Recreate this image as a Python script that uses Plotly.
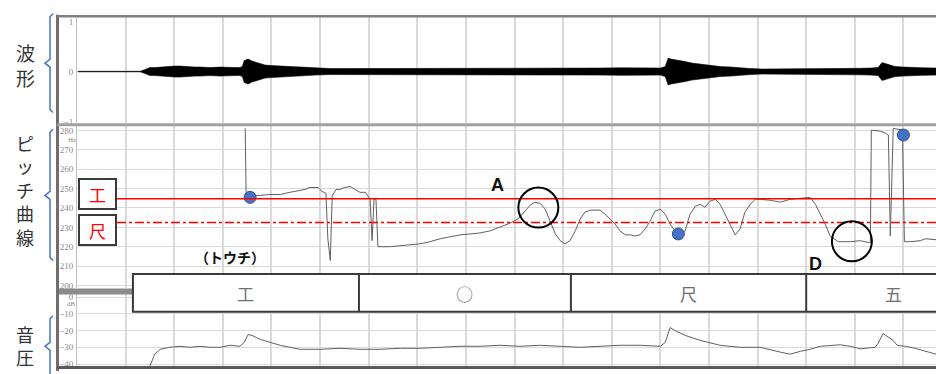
import plotly.graph_objects as go

W, H = 936, 374

# ---- data -------------------------------------------------------------
# waveform envelope (time in s, normalised amplitude)
wave_t = [0.02, 1.30, 1.40, 1.50, 1.60, 1.71, 1.81, 1.91, 2.02, 2.12, 2.22, 2.33, 2.43, 2.53,
          2.74, 2.94, 3.10, 3.25, 3.35, 3.40, 3.44, 3.52, 3.60, 3.66, 3.77, 3.87, 4.00, 4.18,
          4.40, 4.59, 4.90, 5.21, 5.50, 5.82, 6.20, 6.65, 7.10, 7.67, 8.20, 8.70, 9.20,
          9.73, 10.20, 10.76, 11.20, 11.58, 12.00, 12.10, 12.16, 12.22, 12.30, 12.40, 12.51,
          12.65, 12.82, 13.00, 13.23, 13.45, 13.64, 13.85, 14.10, 14.47, 14.90, 15.29, 15.60,
          15.91, 16.10, 16.32, 16.48, 16.56, 16.62, 16.67, 16.75, 16.83, 17.00, 17.14, 17.40,
          17.67]
wave_amp = [0.005, 0.005, 0.04, 0.08, 0.08, 0.09, 0.09, 0.10, 0.11, 0.11, 0.10, 0.10, 0.09,
            0.09, 0.08, 0.09, 0.08, 0.08, 0.08, 0.10, 0.22, 0.25, 0.21, 0.19, 0.16, 0.13, 0.12,
            0.11, 0.09, 0.08, 0.07, 0.06, 0.06, 0.06, 0.055, 0.06, 0.055, 0.06, 0.055, 0.06,
            0.065, 0.07, 0.065, 0.07, 0.075, 0.075, 0.07, 0.10, 0.27, 0.25, 0.24, 0.22, 0.20,
            0.17, 0.15, 0.12, 0.10, 0.09, 0.07, 0.06, 0.05, 0.05, 0.05, 0.055, 0.06,
            0.06, 0.065, 0.07, 0.08, 0.18, 0.16, 0.15, 0.12, 0.10, 0.09, 0.08, 0.075, 0.07]

# pitch contour (time in s, Hz)
pitch_t = [3.46, 3.48, 3.56, 3.77, 3.97, 4.18, 4.38, 4.59, 4.69, 4.79, 4.96, 5.04, 5.12, 5.16,
           5.21, 5.25, 5.33, 5.41, 5.51, 5.62, 5.72, 5.82, 5.93, 6.03, 6.07, 6.11, 6.15, 6.19,
           6.44, 6.65, 6.85, 7.06, 7.26, 7.47, 7.67, 7.88, 8.09, 8.29, 8.50, 8.70, 8.91, 9.07,
           9.22, 9.32, 9.42, 9.53, 9.63, 9.73, 9.84, 9.94, 10.04, 10.14, 10.25, 10.35, 10.45,
           10.56, 10.76, 10.86, 10.97, 11.07, 11.17, 11.28, 11.38, 11.48, 11.58, 11.69, 11.79,
           11.89, 12.00, 12.10, 12.20, 12.30, 12.41, 12.51, 12.61, 12.72, 12.82, 12.92, 13.02,
           13.13, 13.23, 13.33, 13.44, 13.54, 13.64, 13.74, 13.85, 13.95, 14.05, 14.26, 14.47,
           14.67, 14.88, 15.08, 15.19, 15.29, 15.39, 15.49, 15.66, 15.91, 16.11, 16.32, 16.34,
           16.52, 16.63, 16.69, 16.73, 16.79, 16.98, 17.02, 17.14, 17.35, 17.45, 17.67]
pitch_hz = [281.2, 246.5, 246.5, 246.5, 247.0, 247.0, 248.1, 249.1, 249.6, 250.6, 250.6, 248.6,
            247.6, 224.1, 212.9, 246.5, 249.6, 249.6, 250.6, 251.1, 249.6, 248.1, 248.1, 244.5,
            223.1, 244.5, 244.5, 220.0, 220.0, 220.5, 221.0, 221.5, 222.6, 224.1, 225.1, 226.1,
            226.6, 227.1, 228.2, 230.2, 232.2, 234.3, 238.4, 241.4, 243.0, 242.4, 239.4, 233.3,
            226.6, 223.1, 221.5, 223.1, 228.2, 234.3, 237.9, 238.9, 238.9, 236.8, 234.3, 231.7,
            228.2, 226.1, 226.1, 225.6, 226.1, 229.2, 233.3, 238.4, 239.4, 236.8, 231.7, 228.2,
            226.1, 228.2, 236.8, 240.9, 241.9, 240.4, 243.5, 244.5, 241.9, 236.8, 231.7, 226.1,
            229.2, 237.9, 241.9, 244.5, 244.5, 244.0, 243.0, 244.5, 245.0, 245.5, 241.9, 236.8,
            231.7, 225.6, 222.6, 222.6, 223.1, 222.0, 280.2, 279.7, 278.7, 277.7, 225.6, 281.2,
            280.2, 222.6, 222.6, 223.1, 224.1, 223.6]

# marked pitch points
mark_t = [3.56, 12.37, 17.00]
mark_hz = [245.5, 226.6, 277.7]

# reference pitches of the notation
ref_names = ["工", "尺"]
ref_hz = [244.8, 232.5]

# sound pressure level (time in s, dB)
level_t = [1.50, 1.54, 1.60, 1.71, 1.91, 2.12, 2.33, 2.53, 2.74, 2.94, 3.15, 3.35, 3.44, 3.52,
           3.60, 3.77, 3.97, 4.18, 4.38, 4.59, 5.00, 5.41, 5.82, 6.23, 6.65, 7.06, 7.47, 7.88,
           8.29, 8.70, 9.11, 9.53, 9.94, 10.35, 10.76, 11.17, 11.58, 12.00, 12.10, 12.20, 12.30,
           12.51, 12.82, 13.23, 13.64, 14.05, 14.47, 14.67, 14.88, 15.08, 15.29, 15.70, 15.91,
           16.11, 16.42, 16.48, 16.58, 16.79, 16.87, 17.04, 17.24, 17.67]
level_db = [-41.2, -38.2, -34.1, -31.2, -30.0, -29.4, -30.0, -29.4, -30.0, -30.0, -28.8, -29.4,
            -27.1, -22.4, -22.9, -25.3, -27.1, -28.8, -30.0, -31.2, -31.2, -30.6, -31.2, -31.2,
            -30.6, -30.6, -30.0, -29.4, -29.4, -28.8, -29.4, -28.8, -29.4, -30.0, -29.4, -28.8,
            -28.8, -29.4, -27.1, -18.2, -20.0, -22.9, -25.9, -28.8, -30.0, -30.0, -32.9, -34.1,
            -32.4, -31.2, -29.4, -28.5, -29.4, -30.9, -30.0, -27.6, -21.8, -25.9, -28.8, -29.4,
            -30.6, -34.1]

# notation table along the time axis
note_names = ["工", "○", "尺", "五"]
note_bounds = [1.15, 5.80, 10.16, 15.00, 18.58]

# annotated spots (label, time, Hz)
circle_spots = [("A", 9.49, 240.2), ("D", 15.94, 222.8)]
letter_pos = {"A": (8.66, 252.1), "D": (15.19, 211.3)}

# ---- helpers ----------------------------------------------------------
def px(x):
    return x / W

def py(y):
    return 1 - y / H

GRID = "#d9d9d9"
TICKF = dict(family="Liberation Serif", size=9, color="#8a8a8a")
UNITF = dict(family="Liberation Serif", size=7, color="#8a8a8a")
BLUE = "#4472C4"

fig = go.Figure()

# waveform as a filled envelope
fig.add_trace(go.Scatter(x=wave_t, y=wave_amp, mode="lines",
                         line=dict(color="black", width=0.6),
                         xaxis="x", yaxis="y", hoverinfo="skip", showlegend=False))
fig.add_trace(go.Scatter(x=wave_t, y=[-a for a in wave_amp], mode="lines",
                         line=dict(color="black", width=0.6), fill="tonexty",
                         fillcolor="black", xaxis="x", yaxis="y",
                         hoverinfo="skip", showlegend=False))

# pitch contour
fig.add_trace(go.Scatter(x=pitch_t, y=pitch_hz, mode="lines",
                         line=dict(color="#606060", width=1),
                         xaxis="x2", yaxis="y2", showlegend=False))

# sound pressure
fig.add_trace(go.Scatter(x=level_t, y=level_db, mode="lines",
                         line=dict(color="#606060", width=1),
                         xaxis="x3", yaxis="y3", showlegend=False))

xcommon = dict(domain=[px(77), 1], range=[0, 17.67], dtick=1, tick0=0,
               showgrid=True, gridcolor=GRID, gridwidth=1.5,
               showticklabels=False, zeroline=False, ticks="")

shapes = []
annotations = []

# reference pitch lines
for name, hz, dash in zip(ref_names, ref_hz, ["solid", "dashdot"]):
    shapes.append(dict(type="line", xref="paper", yref="y2", x0=px(117), x1=1,
                       y0=hz, y1=hz, line=dict(color="#FF0000", width=1.6, dash=dash),
                       layer="above"))

# separating bar between pitch and level panels
shapes.append(dict(type="rect", xref="paper", yref="paper", x0=px(57), x1=px(134),
                   y0=py(296.5), y1=py(290.5), fillcolor="#8c8c8c",
                   line=dict(width=0), layer="above"))

# notation table
shapes.append(dict(type="rect", xref="x2", yref="paper", x0=note_bounds[0],
                   x1=note_bounds[-1], y0=py(314), y1=py(275.7), fillcolor="white",
                   line=dict(color="#3a3a3a", width=2), layer="above"))
for b in note_bounds[1:-1]:
    shapes.append(dict(type="line", xref="x2", yref="paper", x0=b, x1=b,
                       y0=py(314), y1=py(275.7), line=dict(color="#3a3a3a", width=2),
                       layer="above"))
for name, a, b in zip(note_names, note_bounds[:-1], note_bounds[1:]):
    annotations.append(dict(x=(a + b) / 2, y=py(295.5), xref="x2", yref="paper",
                            text=name, showarrow=False, xanchor="center", yanchor="middle",
                            font=dict(family="Noto Sans CJK JP", size=17, color="#707070")))

# frame lines
shapes += [
    dict(type="line", xref="paper", yref="paper", x0=px(57.5), x1=px(57.5),
         y0=py(13), y1=0, line=dict(color="#6e6e6e", width=3), layer="above"),
    dict(type="line", xref="paper", yref="paper", x0=px(57), x1=1,
         y0=py(14.5), y1=py(14.5), line=dict(color="#808080", width=2.5), layer="above"),
    dict(type="line", xref="paper", yref="paper", x0=px(57), x1=1,
         y0=py(124.5), y1=py(124.5), line=dict(color="#a0a0a0", width=3), layer="above"),
    dict(type="line", xref="paper", yref="paper", x0=px(57), x1=1,
         y0=py(370.5), y1=py(370.5), line=dict(color="#5a5a5a", width=3), layer="above"),
]

# circled spots and their letters
for lab, t, hz in circle_spots:
    shapes.append(dict(type="circle", xref="x2", yref="y2", xsizemode="pixel",
                       ysizemode="pixel", xanchor=t, yanchor=hz, x0=-20, x1=20,
                       y0=-20, y1=20, line=dict(color="black", width=2), layer="above"))
    lx, ly = letter_pos[lab]
    annotations.append(dict(x=lx, y=ly, xref="x2", yref="y2", text=f"<b>{lab}</b>",
                            showarrow=False, xanchor="center", yanchor="middle",
                            font=dict(family="Liberation Sans", size=18, color="#111")))

annotations.append(dict(x=3.15, y=214.9, xref="x2", yref="y2", text="<b>（トウチ）</b>",
                        showarrow=False, xanchor="center", yanchor="middle",
                        font=dict(family="Noto Sans CJK JP", size=14, color="#111")))

# boxed labels of the reference lines
for name, yc in zip(ref_names, [195, 231.5]):
    annotations.append(dict(x=px(97.5), y=py(yc), xref="paper", yref="paper",
                            text=name, showarrow=False, width=35, height=28,
                            bordercolor="#3a3a3a", borderwidth=2, borderpad=0,
                            bgcolor="white", xanchor="center", yanchor="middle",
                            font=dict(family="Noto Sans CJK JP", size=17, color="#FF0000")))

# unit labels
annotations.append(dict(x=px(72), y=py(139.5), xref="paper", yref="paper", text="Hz",
                        showarrow=False, xanchor="center", yanchor="middle", font=UNITF))
annotations.append(dict(x=px(71), y=py(306.5), xref="paper", yref="paper", text="dB",
                        showarrow=False, xanchor="center", yanchor="middle", font=UNITF))

# panel titles written vertically
def vtext(chars, yc, size):
    annotations.append(dict(x=px(25), y=py(yc), xref="paper", yref="paper",
                            text="<br>".join(chars), showarrow=False,
                            xanchor="center", yanchor="middle",
                            font=dict(family="Noto Sans CJK JP", size=size, color="#333")))

vtext("波形", 64, 19)
vtext("ピッチ曲線", 191, 18)
vtext("音圧", 348.5, 18)

# curly brackets
def brace(top, mid, bot, x=50, tip=45):
    pts = [(x + 3, top), (x, top + 3), (x, mid - 4), (tip, mid), (x, mid + 4),
           (x, bot - 3), (x + 3, bot)]
    path = "M " + " L ".join(f"{px(a):.5f},{py(b):.5f}" for a, b in pts)
    shapes.append(dict(type="path", xref="paper", yref="paper", path=path,
                       line=dict(color=BLUE, width=1.5), layer="above"))

brace(12, 62, 112)
brace(129, 196, 262)
brace(318, 349, 386)

fig.add_trace(go.Scatter(x=mark_t, y=mark_hz, mode="markers",
                         marker=dict(size=12, color=BLUE, line=dict(color="#2F528F", width=1)),
                         xaxis="x2", yaxis="y2", showlegend=False))

fig.update_layout(
    width=W, height=H, margin=dict(l=0, r=0, t=0, b=0),
    paper_bgcolor="white", plot_bgcolor="white", showlegend=False,
    xaxis=dict(**xcommon, anchor="y"),
    xaxis2=dict(**xcommon, anchor="y2", matches="x"),
    xaxis3=dict(**xcommon, anchor="y3", matches="x"),
    yaxis=dict(domain=[py(123), py(15)], range=[-1.04, 1.10], tickvals=[-1, 0, 1],
               showgrid=False, zeroline=True, zerolinecolor="#c8c8c8", zerolinewidth=1,
               showline=True, linecolor="#c0c0c0", tickfont=TICKF, anchor="x",
               ticklabelstandoff=1),
    yaxis2=dict(domain=[py(290), py(126)], range=[198.6, 282.2],
                tickvals=list(range(200, 290, 10)), showgrid=True, gridcolor=GRID,
                gridwidth=1.2, zeroline=False, showline=True, linecolor="#c0c0c0",
                tickfont=TICKF, anchor="x2", ticklabelstandoff=1),
    yaxis3=dict(domain=[py(370), py(296)], range=[-41.8, 1.8],
                tickvals=[0, -10, -20, -30, -40], showgrid=True, gridcolor=GRID,
                gridwidth=1.2, zeroline=False, showline=True, linecolor="#c0c0c0",
                tickfont=TICKF, anchor="x3", ticklabelstandoff=1),
    shapes=shapes, annotations=annotations,
)

fig.write_html("out.html")
